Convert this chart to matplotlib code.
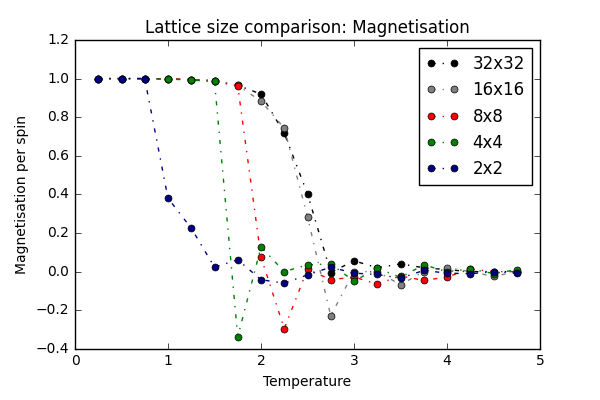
import matplotlib
matplotlib.use('Agg')
import matplotlib.pyplot as plt
import numpy as np

temperature = [0.25, 0.5, 0.75, 1.0, 1.25, 1.5, 1.75, 2.0, 2.25, 2.5,
               2.75, 3.0, 3.25, 3.5, 3.75, 4.0, 4.25, 4.5, 4.75]

mag_32 = [1.0, 1.0, 1.0, 0.998, 0.995, 0.99, 0.965, 0.92, 0.717, 0.403,
          -0.005, 0.056, 0.02, 0.04, 0.02, 0.01, 0.0, 0.0, 0.0]
mag_16 = [1.0, 1.0, 1.0, 0.998, 0.995, 0.99, 0.965, 0.883, 0.743, 0.284,
          -0.229, 0.0, 0.0, -0.068, 0.0, 0.021, 0.0, -0.025, 0.0]
mag_8 = [1.0, 1.0, 1.0, 0.998, 0.995, 0.985, 0.962, 0.075, -0.296, 0.013,
         -0.042, -0.028, -0.065, -0.022, -0.046, -0.028, 0.013, 0.0, 0.0]
mag_4 = [1.0, 1.0, 1.0, 0.998, 0.992, 0.985, -0.338, 0.128, 0.0, 0.035,
         0.04, -0.05, 0.018, -0.03, 0.035, 0.0, 0.013, -0.01, 0.01]
mag_2 = [1.0, 1.0, 1.0, 0.38, 0.225, 0.023, 0.061, -0.042, -0.06, -0.017,
         0.023, -0.008, -0.015, -0.034, 0.006, -0.008, -0.011, 0.0, -0.008]

labels = ['32x32', '16x16', '8x8', '4x4', '2x2']
colors = ['k', 'gray', 'r', 'g', 'navy']

plt.style.use('classic')
plt.rcParams['font.size'] = 10
fig = plt.figure(figsize=(6, 4), dpi=100)
ax = fig.add_subplot(111)
fig.subplots_adjust(left=0.125, right=0.9, top=0.9, bottom=0.128)

for m, lab, c in zip([mag_32, mag_16, mag_8, mag_4, mag_2], labels, colors):
    ax.plot(temperature, m, linestyle='-.', marker='o', color=c,
            markersize=5, label=lab)

ax.set_xlim(0, 5)
ax.set_ylim(-0.4, 1.2)
ax.set_title('Lattice size comparison: Magnetisation')
ax.set_xlabel('Temperature')
ax.set_ylabel('Magnetisation per spin')
ax.legend(loc='upper right', numpoints=2)

plt.savefig('out.png', dpi=100)
plt.close()
